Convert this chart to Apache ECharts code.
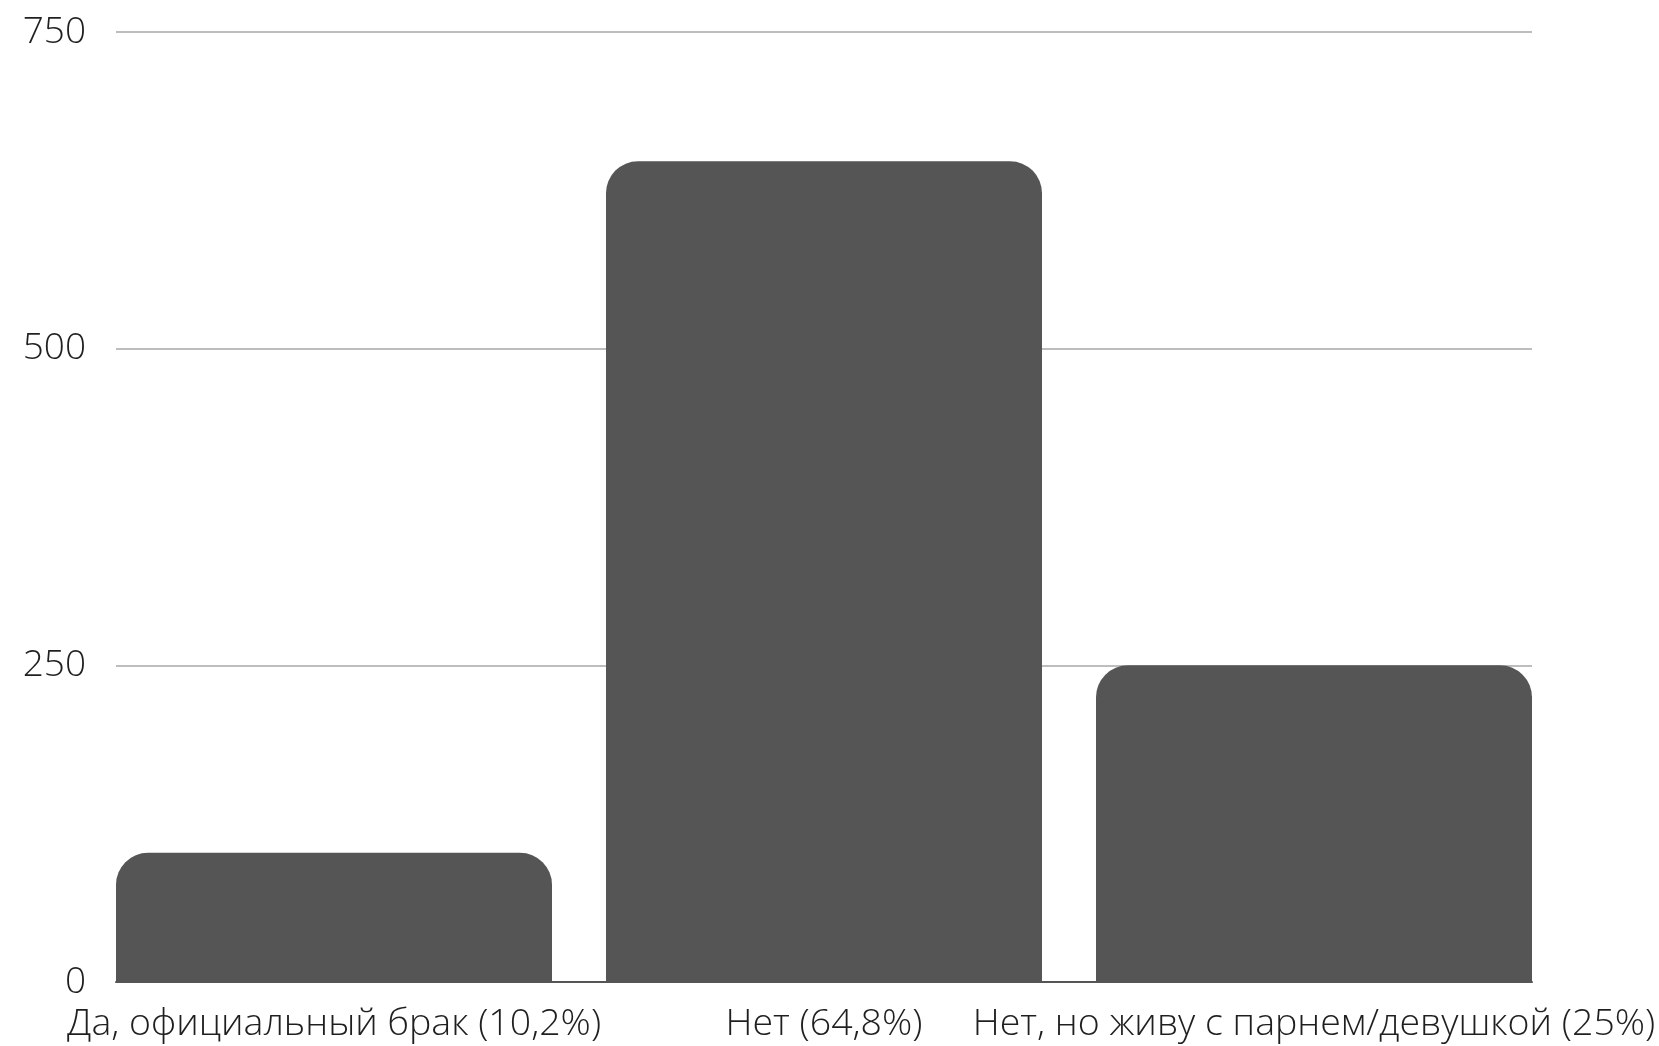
<!DOCTYPE html>
<html>
<head>
<meta charset="utf-8">
<script src="https://cdn.jsdelivr.net/npm/echarts@6/dist/echarts.min.js"></script>
<style>
html,body{margin:0;padding:0;background:#fff;}
#chart{width:1659px;height:1046px;}
</style>
</head>
<body>
<div id="chart"></div>
<script>
const categories = ['Да, официальный брак (10,2%)', 'Нет (64,8%)', 'Нет, но живу с парнем/девушкой (25%)'];
const values = [102, 648, 250];
const yTicks = [0, 250, 500, 750];

const font = "'Open Sans', 'DejaVu Sans', sans-serif";
const chart = echarts.init(document.getElementById('chart'), null, {renderer: 'canvas'});
chart.setOption({
  backgroundColor: '#ffffff',
  animation: false,
  grid: [
    {left: 116, right: 127, top: 32, bottom: 64},
    {left: 89, right: 100, top: 32, bottom: 64}
  ],
  xAxis: [
    {
      gridIndex: 0, type: 'category', data: categories,
      axisLine: {show: true, lineStyle: {color: '#555555', width: 2}},
      axisTick: {show: false}, axisLabel: {show: false}, splitLine: {show: false}
    },
    {
      gridIndex: 1, type: 'category', data: categories,
      axisLine: {show: false}, axisTick: {show: false},
      axisLabel: {show: true, interval: 0, margin: 23, color: '#1f1f1f', fontSize: 37.5, fontWeight: 300, fontFamily: font}
    }
  ],
  yAxis: [
    {
      gridIndex: 0, type: 'value', min: yTicks[0], max: yTicks[yTicks.length - 1], interval: 250,
      axisLine: {show: false}, axisTick: {show: false},
      axisLabel: {margin: 30, color: '#1f1f1f', fontSize: 37, fontWeight: 300, fontFamily: font},
      splitLine: {show: true, lineStyle: {color: '#bdbdbd', width: 2}}
    },
    {
      gridIndex: 1, type: 'value', min: yTicks[0], max: yTicks[yTicks.length - 1], interval: 250,
      show: false, splitLine: {show: false}
    }
  ],
  series: [
    {
      type: 'bar', xAxisIndex: 1, yAxisIndex: 1,
      data: values, barWidth: 436,
      itemStyle: {color: '#555555', borderRadius: [32, 32, 0, 0]}
    }
  ]
});
</script>
</body>
</html>
